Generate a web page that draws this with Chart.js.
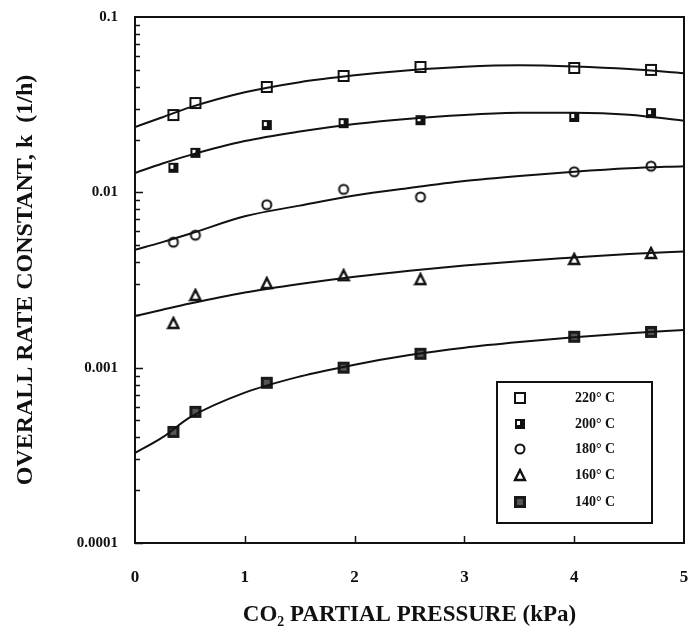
<!DOCTYPE html>
<html>
<head>
<meta charset="utf-8">
<script src="https://cdn.jsdelivr.net/npm/chart.js@4.4.1/dist/chart.umd.min.js"></script>
<style>
  html, body { margin: 0; padding: 0; background: #fff; }
  #wrap { width: 691px; height: 629px; }
</style>
</head>
<body>
<div id="wrap"><canvas id="chart" width="691" height="629"></canvas></div>
<script>
// measured points (CO2 partial pressure, kPa)
const pressure = [0.35, 0.55, 1.2, 1.9, 2.6, 4.0, 4.7];
const k220 = [0.0276, 0.0323, 0.0399, 0.0461, 0.0519, 0.0512, 0.0499];
const k200 = [0.0138, 0.0168, 0.0242, 0.0248, 0.0258, 0.0269, 0.0283];
const k180 = [0.0052, 0.0057, 0.0085, 0.0104, 0.0094, 0.0131, 0.0141];
const k160 = [0.00180, 0.00260, 0.00304, 0.00337, 0.00320, 0.00417, 0.00451];
const k140 = [0.00043, 0.00056, 0.00082, 0.00100, 0.00120, 0.00150, 0.00160];

// fitted curves
const curveX = [0, 0.25, 0.5, 1, 1.5, 2, 2.5, 3, 3.5, 4, 4.5, 5];
const fit220 = [0.0236, 0.0268, 0.0305, 0.0372, 0.0425, 0.0465, 0.0497, 0.0520, 0.0530, 0.0522, 0.0505, 0.0478];
const fit200 = [0.0129, 0.0146, 0.0163, 0.0196, 0.0222, 0.0245, 0.0263, 0.0276, 0.0284, 0.0284, 0.0277, 0.0256];
const fit180 = [0.0047, 0.0052, 0.0058, 0.0073, 0.0084, 0.0096, 0.0106, 0.0116, 0.0124, 0.0131, 0.0137, 0.0141];
const fit160 = [0.00197, 0.00214, 0.00232, 0.00268, 0.00300, 0.00330, 0.00357, 0.00382, 0.00405, 0.00425, 0.00445, 0.00460];
const fit140 = [0.000326, 0.00040, 0.00052, 0.00072, 0.00089, 0.00104, 0.00118, 0.00130, 0.00140, 0.00149, 0.00157, 0.00164];

const seriesLabels = ['220\u00B0 C', '200\u00B0 C', '180\u00B0 C', '160\u00B0 C', '140\u00B0 C'];
const yTicks = [0.0001, 0.001, 0.01, 0.1];

const FONT = "'Liberation Serif', 'Times New Roman', serif";

// marker images
function marker(kind) {
  const c = document.createElement('canvas');
  c.width = 14; c.height = 14;
  const g = c.getContext('2d');
  g.strokeStyle = '#111';
  g.fillStyle = '#fff';
  if (kind === 'openSquare') {
    g.lineWidth = 2;
    g.fillRect(2, 2, 10, 10);
    g.strokeRect(2, 2, 10, 10);
  } else if (kind === 'halfSquare') {
    g.fillStyle = '#111';
    g.fillRect(2, 2, 10, 10);
    g.fillStyle = '#fff';
    g.fillRect(4, 4, 3, 4);
  } else if (kind === 'openCircle') {
    g.lineWidth = 2;
    g.beginPath();
    g.arc(7, 7, 4.5, 0, Math.PI * 2);
    g.fill();
    g.stroke();
  } else if (kind === 'triangle') {
    g.lineWidth = 2.4;
    g.beginPath();
    g.moveTo(7, 2);
    g.lineTo(12, 12);
    g.lineTo(2, 12);
    g.closePath();
    g.fill();
    g.stroke();
  } else {
    g.fillStyle = '#1a1a1a';
    g.fillRect(1, 1, 12, 12);
    g.fillStyle = '#555';
    g.fillRect(4, 4, 6, 6);
  }
  return c;
}
const markers = [marker('openSquare'), marker('halfSquare'), marker('openCircle'), marker('triangle'), marker('bigSquare')];

const pointSets = [k220, k200, k180, k160, k140];
const curveSets = [fit220, fit200, fit180, fit160, fit140];

const datasets = [];
curveSets.forEach(vals => {
  datasets.push({
    type: 'line',
    isCurve: true,
    data: curveX.map((x, i) => ({ x: x, y: vals[i] })),
    borderColor: '#111',
    borderWidth: 2,
    pointRadius: 0,
    cubicInterpolationMode: 'monotone',
    fill: false
  });
});
pointSets.forEach((vals, s) => {
  datasets.push({
    type: 'scatter',
    label: seriesLabels[s],
    data: pressure.map((x, i) => ({ x: x, y: vals[i] })),
    pointStyle: markers[s],
    pointRadius: 6,
    showLine: false
  });
});

// frame, inward ticks and boxed legend
const framePlugin = {
  id: 'frame',
  afterDatasetsDraw(chart) {
    const ctx = chart.ctx;
    const a = chart.chartArea;
    const xs = chart.scales.x, ys = chart.scales.y;
    ctx.save();
    ctx.strokeStyle = '#111';
    ctx.lineWidth = 2;
    ctx.strokeRect(a.left, a.top, a.right - a.left, a.bottom - a.top);

    ctx.lineWidth = 1.5;
    ctx.beginPath();
    [0.0001, 0.001, 0.01].forEach(d => {
      for (let m = 1; m <= 9; m++) {
        const py = Math.round(ys.getPixelForValue(m * d)) + 0.5;
        const len = m === 1 ? 8 : 5;
        ctx.moveTo(a.left, py);
        ctx.lineTo(a.left + len, py);
      }
    });
    [1, 2, 3, 4].forEach(v => {
      const px = Math.round(xs.getPixelForValue(v)) + 0.5;
      ctx.moveTo(px, a.bottom);
      ctx.lineTo(px, a.bottom - 7);
    });
    ctx.stroke();

    // legend box
    const bx = 497, by = 382, bw = 155, bh = 141;
    ctx.lineWidth = 2;
    ctx.strokeRect(bx, by, bw, bh);
    ctx.fillStyle = '#111';
    ctx.font = 'bold 14px ' + FONT;
    ctx.textBaseline = 'middle';
    const rows = [398, 424, 449, 475, 502];
    chart.data.datasets.filter(d => !d.isCurve).forEach((d, i) => {
      ctx.drawImage(d.pointStyle, 520 - 7, rows[i] - 7);
      ctx.fillText(d.label, 575, rows[i]);
    });
    ctx.restore();
  }
};

new Chart(document.getElementById('chart'), {
  type: 'scatter',
  data: { datasets: datasets },
  options: {
    responsive: false,
    animation: false,
    layout: { padding: { top: 17, right: 3, left: 0, bottom: 0 } },
    plugins: {
      legend: { display: false },
      tooltip: { enabled: false }
    },
    scales: {
      x: {
        type: 'linear',
        min: 0,
        max: 5,
        ticks: {
          stepSize: 1,
          color: '#111',
          padding: 16,
          font: { family: FONT, size: 17, weight: 'bold' }
        },
        grid: { display: false },
        border: { display: false },
        title: {
          display: true,
          text: 'CO\u2082 PARTIAL PRESSURE (kPa)',
          color: '#111',
          align: 'center',
          padding: { top: 9, bottom: 0 },
          font: { family: FONT, size: 23, weight: 'bold' }
        },
        afterFit(scale) {
          scale.height = 86;
          scale.paddingRight = 0;
          scale.paddingLeft = 0;
        }
      },
      y: {
        type: 'logarithmic',
        min: 0.0001,
        max: 0.1,
        afterBuildTicks(scale) {
          scale.ticks = yTicks.map(v => ({ value: v }));
        },
        ticks: {
          color: '#111',
          padding: 9,
          font: { family: FONT, size: 15, weight: 'bold' },
          callback: v => String(v)
        },
        grid: { display: false },
        border: { display: false },
        title: {
          display: true,
          text: 'OVERALL RATE CONSTANT, k  (1/h)',
          color: '#111',
          padding: { top: 11, bottom: 0 },
          font: { family: FONT, size: 24, weight: 'bold' }
        },
        afterFit(scale) {
          scale.width = 135;
          scale.paddingTop = 0;
          scale.paddingBottom = 0;
        }
      }
    }
  },
  plugins: [framePlugin]
});
</script>
</body>
</html>
